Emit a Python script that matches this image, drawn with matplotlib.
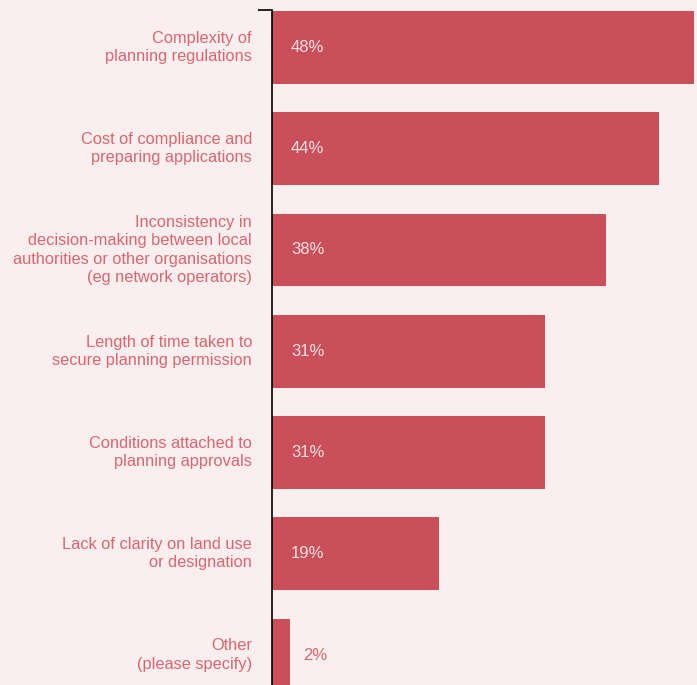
import matplotlib.pyplot as plt
from matplotlib.transforms import blended_transform_factory

categories = [
    "Complexity of\nplanning regulations",
    "Cost of compliance and\npreparing applications",
    "Inconsistency in\ndecision-making between local\nauthorities or other organisations\n(eg network operators)",
    "Length of time taken to\nsecure planning permission",
    "Conditions attached to\nplanning approvals",
    "Lack of clarity on land use\nor designation",
    "Other\n(please specify)",
]
values = [48, 44, 38, 31, 31, 19, 2]

bg = "#faeeee"
bar_color = "#c9505b"
label_color = "#dc6670"

plt.rcParams["font.family"] = ["Liberation Sans", "DejaVu Sans"]

fig = plt.figure(figsize=(6.97, 6.85), dpi=100, facecolor=bg)
ax = fig.add_axes([272 / 697, 0, (697 - 272) / 697, (685 - 10) / 685])
ax.set_facecolor(bg)

y = list(range(len(values)))
ax.barh(y, values, height=0.72, color=bar_color)
ax.set_xlim(0, 48.3)
ax.set_ylim(6.296, -0.37)

for s in ["top", "right", "bottom"]:
    ax.spines[s].set_visible(False)
ax.spines["left"].set_color("black")
ax.spines["left"].set_linewidth(1.2)
ax.set_xticks([])
ax.set_yticks([-0.37])
ax.set_yticklabels([""])
ax.tick_params(axis="y", length=10, width=1.2, color="black")

trans = blended_transform_factory(ax.transAxes, ax.transData)
for yi, cat, v in zip(y, categories, values):
    ax.text(-20 / 425, yi, cat, transform=trans, ha="right", va="center",
            fontsize=11.75, color=label_color, linespacing=1.28)
    if v >= 5:
        ax.text(19 / 425, yi, f"{v}%", transform=trans, ha="left", va="center",
                fontsize=12, color="#f7dfe2")
    else:
        ax.text(v + 14 / 8.8, yi, f"{v}%", ha="left", va="center",
                fontsize=12, color=label_color)

fig.savefig("out.png", dpi=100, facecolor=bg)
